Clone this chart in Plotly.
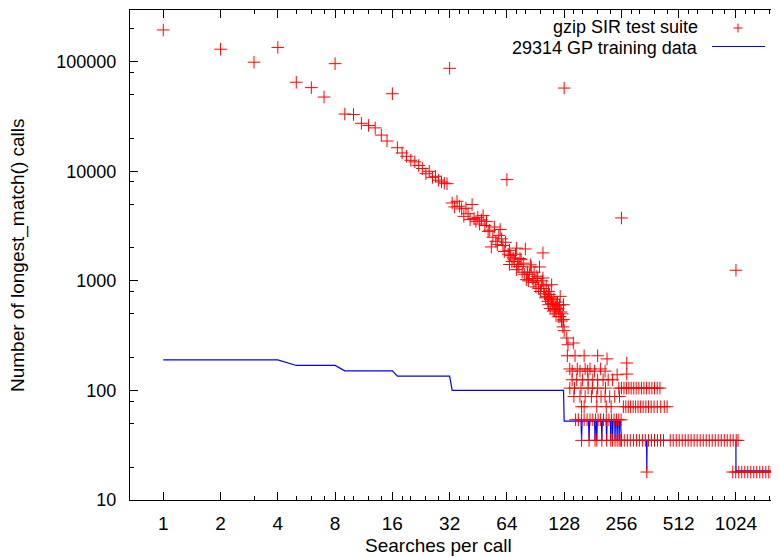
import plotly.graph_objects as go

# ---------------- data: gzip SIR test suite (red +) ----------------
sir_early_n = [1, 2, 3, 4, 5, 6, 7, 8, 9, 10, 11, 12, 13, 14, 15, 16, 17, 18, 19, 20,
               21, 22, 23, 24, 25, 26, 27, 28, 29, 30, 31, 32]
sir_early_calls = [195000, 130000, 99000, 135000, 65000, 58000, 47600, 96000, 33300, 33000,
                   27400, 26200, 24900, 21400, 18900, 51000, 16400, 14700, 13700, 12600,
                   12200, 11300, 10600, 9500, 10000, 8800, 9000, 8300, 8000, 7800, 7700, 87000]

sir_mid_n = [33, 35, 34, 37, 42, 38, 41, 44, 48, 50, 51, 55, 59, 53, 57, 60, 66, 72, 80, 99,
             69, 76, 66, 73, 86, 95, 72, 81, 92, 99, 88, 97, 110, 106, 104, 122, 110, 106,
             117, 127, 114, 122, 127, 128, 132, 134, 143,
             36, 39, 40, 43, 45, 46, 47, 49, 52, 54, 56, 58, 61, 62, 63, 65, 67, 68, 70, 71,
             74, 75, 77, 78, 79, 82, 83, 84, 85, 87, 89, 90, 91, 93, 94, 96, 98, 100, 101,
             102, 103, 105, 107, 108, 109, 111, 112, 113, 115, 116, 118, 119, 120, 121, 123,
             124, 125, 126]
sir_mid_calls = [5140, 5320, 4730, 4540, 4970, 3880, 3620, 3490, 3940, 3490, 2830, 3100, 2940,
                 2040, 2140, 2420, 1900, 1990, 1955, 1800, 1620, 1560, 1410, 1410, 1340, 1340,
                 1265, 1025, 1100, 1062, 968, 922, 922, 800, 722, 722, 673, 606, 606, 606, 546,
                 474, 443, 351, 301, 261, 271,
                 4800, 4600, 4100, 3700, 3800, 3300, 3600, 3200, 2900, 2500, 2300, 2600, 2100,
                 1850, 2250, 1750, 1700, 1500, 1500, 1750, 1350, 1600, 1200, 1450, 1150, 1200,
                 1000, 1150, 1400, 1050, 1200, 1000, 880, 1050, 850, 800, 1000, 850, 760, 700,
                 900, 650, 750, 560, 700, 620, 530, 680, 580, 500, 640, 560, 470, 600, 520,
                 430, 500, 380]

sir_outlier_n = [64, 128, 256, 1024]
sir_outlier_calls = [8400, 57500, 3750, 1250]

row207_n = [133, 146, 163, 192, 215, 273]
row207_calls = [207, 207, 207, 207, 194, 178]
row150_n = [137, 150, 165, 175, 199, 141, 155, 170, 185, 210, 243, 273]
row150_calls = [157, 157, 157, 157, 157, 150, 150, 150, 150, 150, 139, 141]
row125_n = [141, 149, 160, 171, 181, 192, 205, 218, 230]
row104_n = [137, 145, 157, 171, 180, 192, 211, 248, 256, 264, 272, 280, 288, 297, 306, 316,
            326, 336, 347, 358, 370, 382, 395, 408]
row88_n = [144, 155, 165, 178, 190, 200, 210, 222, 236, 250]
row71_n = [158, 163, 190, 213, 226, 262, 270, 278, 286, 295, 304, 313, 323, 333, 344, 355,
           367, 380, 395, 412, 430, 445]
row54_n = [147, 152, 158, 163, 169, 175, 181, 187, 193, 199, 206, 213, 220, 227, 234, 241,
           248, 255]
row35_n = [158, 173, 186, 190, 202, 214, 225, 230, 237, 243, 249, 254, 256, 265, 275, 285,
           296, 307, 318, 330, 342, 355, 368, 382, 396, 411, 426, 462, 479, 497, 515, 534,
           554, 574, 595, 617, 640, 664, 689, 714, 741, 768, 797, 826, 857, 889, 921, 955,
           990, 1027, 1050]
row18_n = [348, 985, 1021, 1059, 1098, 1139, 1181, 1225, 1270, 1317, 1366, 1416, 1469, 1523,
           1570]

# ---------------- data: 29314 GP training data (blue line) ----------------
gp_n = [1, 4, 5, 8, 9, 16, 17, 32, 33, 127, 128,
        157, 158, 159, 172, 173, 174, 185, 186, 187, 189, 190, 191, 201, 202, 203,
        213, 214, 215, 224, 225, 226, 229, 230, 231, 236, 237, 238, 242, 243, 244,
        248, 249, 250, 253, 254, 255, 256, 347, 348, 349, 1023, 1024, 1570]
gp_calls = [190, 190, 169, 169, 151, 151, 135, 135, 100, 100, 52.5,
            52.5, 35, 52.5, 52.5, 35, 52.5, 52.5, 35, 52.5, 52.5, 35, 52.5, 52.5, 35, 52.5,
            52.5, 35, 52.5, 52.5, 35, 52.5, 52.5, 35, 52.5, 52.5, 35, 52.5, 52.5, 35, 52.5,
            52.5, 35, 52.5, 52.5, 35, 52.5, 35, 35, 18.5, 35, 35, 18.5, 18.5]

x_major = [1, 2, 4, 8, 16, 32, 64, 128, 256, 512, 1024]
x_minor = [3, 5, 6, 7, 9, 10, 12, 14, 18, 20, 24, 28, 36, 40, 48, 56, 72, 80, 96, 112,
           144, 160, 192, 224, 288, 320, 384, 448, 576, 640, 768, 896, 1152, 1280, 1536]
y_major = [10, 100, 1000, 10000, 100000]
y_minor = [20, 50, 80, 200, 500, 800, 2000, 5000, 8000, 20000, 50000, 80000, 200000]

# ---------------- assemble ----------------
red_n = (sir_early_n + sir_mid_n + sir_outlier_n + row207_n + row150_n + row125_n + row104_n
         + row88_n + row71_n + row54_n + row35_n + row18_n)
red_calls = (sir_early_calls + sir_mid_calls + sir_outlier_calls + row207_calls + row150_calls
             + [125] * len(row125_n) + [105] * len(row104_n) + [88] * len(row88_n)
             + [71] * len(row71_n) + [54] * len(row54_n) + [35] * len(row35_n)
             + [18] * len(row18_n))

FONT = "Liberation Sans, Arial, Helvetica, sans-serif"
FS = 19
# the page body has an 8px margin; the figure is sized so the plot lands at
# window pixels x 130..779, y 10..500
OFF = 8
W, H = 779 - OFF, 558 - OFF
PL, PR, PT, PB = 130, 779, 10, 500          # plot area in window pixels
L, T = PL - OFF, PT - OFF
R = 0
B = (H + OFF) - PB
PW, PH = PR - PL, PB - PT


def px(x):
    return (x - PL) / PW


def py(y):
    return (PB - y) / PH


fig = go.Figure()
fig.add_trace(go.Scatter(
    x=gp_n, y=gp_calls, mode="lines", name="29314 GP training data",
    line=dict(color="#0000ff", width=1.2), showlegend=False))
fig.add_trace(go.Scatter(
    x=red_n, y=red_calls, mode="markers", name="gzip SIR test suite",
    marker=dict(symbol="cross-thin", size=9, color="#ff0000",
                line=dict(width=1, color="#ff0000")),
    showlegend=False))

axis_common = dict(
    type="log", showgrid=False, zeroline=False, showline=True, linecolor="black",
    linewidth=1.2, ticks="inside", ticklen=8, tickcolor="black", tickwidth=1,
)

fig.update_layout(
    width=W, height=H, margin=dict(l=L, r=R, t=T, b=B, autoexpand=False),
    paper_bgcolor="white", plot_bgcolor="white",
    xaxis=dict(**axis_common, range=[-0.1749, 3.2364], tickmode="array",
               tickvals=x_major, ticktext=[str(v) for v in x_major], mirror="ticks",
               ticklabelstandoff=6, tickfont=dict(family=FONT, size=FS, color="black"),
               minor=dict(tickvals=x_minor, ticks="inside", ticklen=4, tickcolor="black")),
    yaxis=dict(**axis_common, range=[1, 5.472], tickmode="array",
               tickvals=y_major, ticktext=[str(v) for v in y_major], mirror=False,
               ticklabelstandoff=9, tickfont=dict(family=FONT, size=18, color="black"),
               minor=dict(tickvals=y_minor, ticks="inside", ticklen=4, tickcolor="black")),
    showlegend=False,
)

annotations = [
    dict(text="Searches per call", x=px(438), y=py(545), xanchor="center", yanchor="middle",
         size=FS),
    dict(text="Number of longest_match() calls", x=px(18), y=py(255), textangle=-90,
         xanchor="center", yanchor="middle", size=FS),
    dict(text="gzip SIR test suite", x=px(700), y=py(27.5), xanchor="right",
         yanchor="middle", size=18),
    dict(text="29314 GP training data", x=px(700), y=py(47.5), xanchor="right",
         yanchor="middle", size=18),
]
for a in annotations:
    size = a.pop("size")
    a.update(xref="paper", yref="paper", showarrow=False,
             font=dict(family=FONT, size=size, color="black"))
fig.update_layout(annotations=annotations)

shapes = [
    dict(type="line", x0=px(733.5), x1=px(742.5), y0=py(28), y1=py(28),
         line=dict(color="#ff0000", width=1)),
    dict(type="line", x0=px(738), x1=px(738), y0=py(23.5), y1=py(32.5),
         line=dict(color="#ff0000", width=1)),
    dict(type="line", x0=px(712), x1=px(765), y0=py(46.5), y1=py(46.5),
         line=dict(color="#0000ff", width=1.2)),
]
for s in shapes:
    s.update(xref="paper", yref="paper")
fig.update_layout(shapes=shapes)

fig.write_html("out.html")
